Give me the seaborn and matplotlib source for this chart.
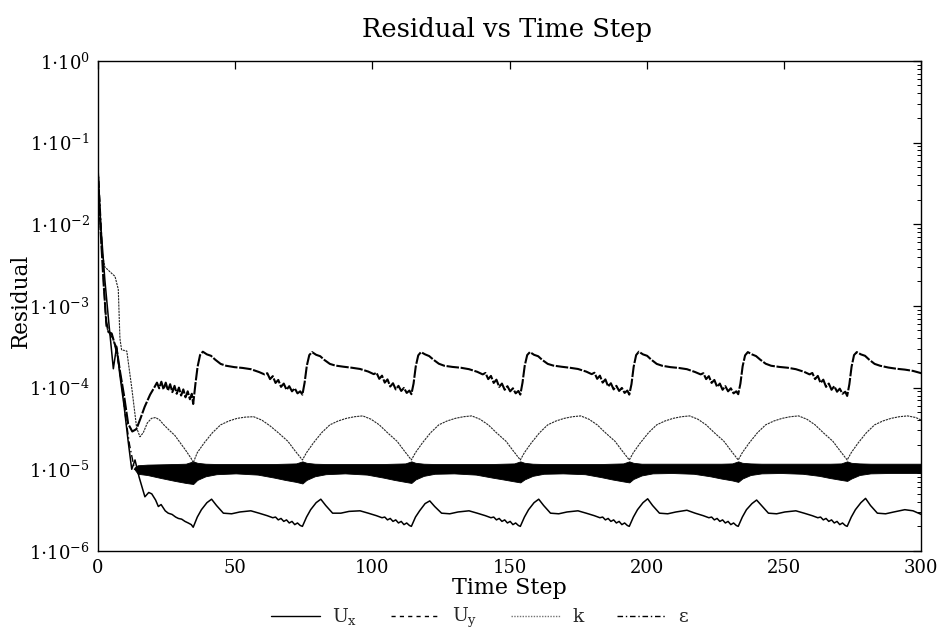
import matplotlib
matplotlib.use("Agg")
import numpy as np
import pandas as pd
import seaborn as sns
import matplotlib.pyplot as plt
from matplotlib.ticker import FixedLocator, FuncFormatter, LogLocator, NullFormatter
from matplotlib.lines import Line2D

# ---------------- data ----------------
ux_step = [0, 1, 2.5, 4, 5.6, 6.8, 8, 9.5, 11, 12.3, 13.5, 15, 17.1, 18.5, 19.6, 21, 22, 23, 24.5, 25.6,
           27, 28.3, 29.3, 30.5, 31.7, 32.9, 34, 34.7,
           36.2, 37.7, 39.7, 41.4, 43.2, 45.7, 48.7, 51.7, 55.7, 58.7, 61.7, 63.7, 64.7, 65.7, 66.7, 67.7, 68.7, 69.7, 70.7, 71.7, 72.7, 73.7, 74.5,
           76.0, 77.5, 79.5, 81.2, 83.0, 85.5, 88.5, 91.5, 95.5, 98.5, 101.5, 103.5, 104.5, 105.5, 106.5, 107.5, 108.5, 109.5, 110.5, 111.5, 112.5, 113.5, 114.2,
           115.7, 117.2, 119.2, 120.9, 122.7, 125.2, 128.2, 131.2, 135.2, 138.2, 141.2, 143.2, 144.2, 145.2, 146.2, 147.2, 148.2, 149.2, 150.2, 151.2, 152.2, 153.2, 153.9,
           155.4, 156.9, 158.9, 160.6, 162.4, 164.9, 167.9, 170.9, 174.9, 177.9, 180.9, 182.9, 183.9, 184.9, 185.9, 186.9, 187.9, 188.9, 189.9, 190.9, 191.9, 192.9, 193.6,
           195.1, 196.6, 198.6, 200.3, 202.1, 204.6, 207.6, 210.6, 214.6, 217.6, 220.6, 222.6, 223.6, 224.6, 225.6, 226.6, 227.6, 228.6, 229.6, 230.6, 231.6, 232.6, 233.3,
           234.8, 236.3, 238.3, 240.0, 241.8, 244.3, 247.3, 250.3, 254.3, 257.3, 260.3, 262.3, 263.3, 264.3, 265.3, 266.3, 267.3, 268.3, 269.3, 270.3, 271.3, 272.3, 273.0,
           274.5, 276.0, 278.0, 279.7, 281.5, 284.0, 287.0, 290.0, 294.0, 297.0, 300.0]
ux_res = [5e-2, 1e-2, 2.1e-3, 6e-4, 1.7e-4, 3.2e-4, 1.4e-4, 6e-5, 2.2e-5, 1.0e-5, 1.3e-5, 8e-6, 4.6e-6, 5.2e-6, 5.0e-6, 4.2e-6, 3.5e-6, 3.7e-6, 3.1e-6, 2.9e-6,
          2.8e-6, 2.6e-6, 2.5e-6, 2.45e-6, 2.3e-6, 2.2e-6, 2.1e-6, 1.95e-6,
          2.6e-6, 3.2e-6, 3.9e-6, 4.3e-6, 3.6e-6, 2.9e-6, 2.85e-6, 3.0e-6, 3.1e-6, 2.9e-6, 2.7e-6, 2.55e-6, 2.6e-6, 2.4e-6, 2.5e-6, 2.3e-6, 2.4e-6, 2.2e-6, 2.3e-6, 2.1e-6, 2.2e-6, 2.05e-6, 2.0e-6,
          2.6e-6, 3.2e-6, 3.9e-6, 4.3e-6, 3.6e-6, 2.9e-6, 2.9e-6, 3.05e-6, 3.1e-6, 2.9e-6, 2.7e-6, 2.55e-6, 2.6e-6, 2.4e-6, 2.5e-6, 2.3e-6, 2.4e-6, 2.2e-6, 2.3e-6, 2.1e-6, 2.2e-6, 2.05e-6, 2.0e-6,
          2.6e-6, 3.1e-6, 3.8e-6, 4.1e-6, 3.5e-6, 2.9e-6, 2.85e-6, 3.0e-6, 3.1e-6, 2.9e-6, 2.7e-6, 2.55e-6, 2.6e-6, 2.4e-6, 2.5e-6, 2.3e-6, 2.4e-6, 2.2e-6, 2.3e-6, 2.1e-6, 2.2e-6, 2.05e-6, 2.0e-6,
          2.6e-6, 3.2e-6, 3.9e-6, 4.3e-6, 3.6e-6, 2.9e-6, 2.85e-6, 3.0e-6, 3.1e-6, 2.9e-6, 2.7e-6, 2.55e-6, 2.6e-6, 2.4e-6, 2.5e-6, 2.3e-6, 2.4e-6, 2.2e-6, 2.3e-6, 2.1e-6, 2.2e-6, 2.05e-6, 2.0e-6,
          2.6e-6, 3.2e-6, 3.9e-6, 4.35e-6, 3.6e-6, 2.9e-6, 2.85e-6, 3.0e-6, 3.15e-6, 2.9e-6, 2.7e-6, 2.55e-6, 2.6e-6, 2.4e-6, 2.5e-6, 2.3e-6, 2.4e-6, 2.2e-6, 2.3e-6, 2.1e-6, 2.2e-6, 2.05e-6, 2.0e-6,
          2.6e-6, 3.2e-6, 3.8e-6, 4.2e-6, 3.6e-6, 2.9e-6, 2.85e-6, 3.0e-6, 3.1e-6, 2.9e-6, 2.7e-6, 2.55e-6, 2.6e-6, 2.4e-6, 2.5e-6, 2.3e-6, 2.4e-6, 2.2e-6, 2.3e-6, 2.1e-6, 2.2e-6, 2.05e-6, 2.0e-6,
          2.6e-6, 3.2e-6, 3.9e-6, 4.4e-6, 3.6e-6, 2.9e-6, 2.85e-6, 3.0e-6, 3.2e-6, 3.1e-6, 2.8e-6]

uy_step = [0, 1, 2, 3, 3.8, 5, 6, 6.8, 8, 9.5, 11, 12.5, 14, 15.5, 17, 19, 20.5, 21.5, 22.3, 23.1, 23.9, 24.7, 25.5, 26.3, 27.1, 27.9, 28.7, 29.5, 30.3, 31.1, 31.9, 32.7, 33.5, 34.2, 34.7,
           35.5, 36.3, 37.2, 38.2, 39.7, 41.2, 42.7, 44.7, 46.7, 49.7, 52.7, 55.7, 58.7, 60.7, 61.7, 62.7, 63.7, 64.7, 65.7, 66.7, 67.7, 68.7, 69.7, 70.7, 71.7, 72.7, 73.7, 74.5,
           75.3, 76.1, 77.0, 78.0, 79.5, 81.0, 82.5, 84.5, 86.5, 89.5, 92.5, 95.5, 98.5, 100.5, 101.5, 102.5, 103.5, 104.5, 105.5, 106.5, 107.5, 108.5, 109.5, 110.5, 111.5, 112.5, 113.5, 114.2,
           115.0, 115.8, 116.7, 117.7, 119.2, 120.7, 122.2, 124.2, 126.2, 129.2, 132.2, 135.2, 138.2, 140.2, 141.2, 142.2, 143.2, 144.2, 145.2, 146.2, 147.2, 148.2, 149.2, 150.2, 151.2, 152.2, 153.2, 153.9,
           154.7, 155.5, 156.4, 157.4, 158.9, 160.4, 161.9, 163.9, 165.9, 168.9, 171.9, 174.9, 177.9, 179.9, 180.9, 181.9, 182.9, 183.9, 184.9, 185.9, 186.9, 187.9, 188.9, 189.9, 190.9, 191.9, 192.9, 193.6,
           194.4, 195.2, 196.1, 197.1, 198.6, 200.1, 201.6, 203.6, 205.6, 208.6, 211.6, 214.6, 217.6, 219.6, 220.6, 221.6, 222.6, 223.6, 224.6, 225.6, 226.6, 227.6, 228.6, 229.6, 230.6, 231.6, 232.6, 233.3,
           234.1, 234.9, 235.8, 236.8, 238.3, 239.8, 241.3, 243.3, 245.3, 248.3, 251.3, 254.3, 257.3, 259.3, 260.3, 261.3, 262.3, 263.3, 264.3, 265.3, 266.3, 267.3, 268.3, 269.3, 270.3, 271.3, 272.3, 273.0,
           273.8, 274.6, 275.5, 276.5, 278.0, 279.5, 281.0, 283.0, 285.0, 288.0, 291.0, 294.0, 297.0, 300.0]
uy_res = [4e-2, 8e-3, 2.0e-3, 6.5e-4, 4.8e-4, 4.6e-4, 3.5e-4, 3.0e-4, 1.6e-4, 8e-5, 3.6e-5, 2.9e-5, 3.1e-5, 4.2e-5, 5.8e-5, 8.2e-5, 1.0e-4, 1.15e-4, 9.8e-5, 1.18e-4, 9.5e-5, 1.15e-4, 9.2e-5, 1.1e-4, 8.8e-5, 1.05e-4, 8.4e-5, 1.0e-4, 8.0e-5, 9.5e-5, 7.6e-5, 9.0e-5, 7.2e-5, 8.4e-5, 6.3e-5,
          1.1e-4, 1.8e-4, 2.5e-4, 2.75e-4, 2.55e-4, 2.45e-4, 2.2e-4, 1.95e-4, 1.85e-4, 1.78e-4, 1.74e-4, 1.68e-4, 1.55e-4, 1.45e-4, 1.5e-4, 1.27e-4, 1.38e-4, 1.14e-4, 1.24e-4, 1.02e-4, 1.12e-4, 9.4e-5, 1.04e-4, 9.0e-5, 9.8e-5, 8.5e-5, 9.0e-5, 8.2e-5,
          1.15e-4, 1.85e-4, 2.5e-4, 2.72e-4, 2.52e-4, 2.42e-4, 2.18e-4, 1.95e-4, 1.86e-4, 1.8e-4, 1.75e-4, 1.69e-4, 1.57e-4, 1.46e-4, 1.52e-4, 1.28e-4, 1.4e-4, 1.15e-4, 1.26e-4, 1.03e-4, 1.13e-4, 9.5e-5, 1.05e-4, 9.1e-5, 9.9e-5, 8.6e-5, 9.2e-5, 8.3e-5,
          1.12e-4, 1.82e-4, 2.48e-4, 2.72e-4, 2.55e-4, 2.43e-4, 2.2e-4, 1.96e-4, 1.85e-4, 1.79e-4, 1.75e-4, 1.68e-4, 1.56e-4, 1.45e-4, 1.51e-4, 1.27e-4, 1.39e-4, 1.14e-4, 1.25e-4, 1.02e-4, 1.12e-4, 9.4e-5, 1.04e-4, 9.0e-5, 9.8e-5, 8.5e-5, 9.1e-5, 8.2e-5,
          1.15e-4, 1.85e-4, 2.5e-4, 2.72e-4, 2.52e-4, 2.42e-4, 2.18e-4, 1.95e-4, 1.86e-4, 1.8e-4, 1.75e-4, 1.69e-4, 1.57e-4, 1.46e-4, 1.52e-4, 1.28e-4, 1.4e-4, 1.15e-4, 1.26e-4, 1.03e-4, 1.13e-4, 9.5e-5, 1.05e-4, 9.1e-5, 9.9e-5, 8.6e-5, 9.2e-5, 8.2e-5,
          1.1e-4, 1.8e-4, 2.5e-4, 2.75e-4, 2.55e-4, 2.45e-4, 2.2e-4, 1.95e-4, 1.85e-4, 1.78e-4, 1.74e-4, 1.68e-4, 1.55e-4, 1.45e-4, 1.5e-4, 1.27e-4, 1.38e-4, 1.14e-4, 1.24e-4, 1.02e-4, 1.12e-4, 9.4e-5, 1.04e-4, 9.0e-5, 9.8e-5, 8.5e-5, 9.0e-5, 8.3e-5,
          1.12e-4, 1.82e-4, 2.48e-4, 2.72e-4, 2.55e-4, 2.43e-4, 2.2e-4, 1.96e-4, 1.85e-4, 1.79e-4, 1.75e-4, 1.68e-4, 1.56e-4, 1.45e-4, 1.51e-4, 1.27e-4, 1.39e-4, 1.14e-4, 1.25e-4, 1.02e-4, 1.12e-4, 9.4e-5, 1.04e-4, 8.9e-5, 9.7e-5, 8.4e-5, 8.9e-5, 7.9e-5,
          1.1e-4, 1.8e-4, 2.5e-4, 2.72e-4, 2.55e-4, 2.45e-4, 2.2e-4, 1.95e-4, 1.85e-4, 1.76e-4, 1.7e-4, 1.66e-4, 1.6e-4, 1.5e-4]

k_step = [0, 1.3, 2.5, 5, 6.2, 7.4, 8, 8.6, 10.5, 12.3, 14.1, 15.3, 16.5, 18, 19.5, 21, 22.5, 24, 26, 28, 30, 32, 34, 34.7,
          36.2, 38.7, 41.7, 44.7, 47.7, 50.7, 53.7, 56.7, 59.7, 62.7, 65.7, 69.2, 71.7, 74.5,
          76.0, 78.5, 81.5, 84.5, 87.5, 90.5, 93.5, 96.5, 99.5, 102.5, 105.5, 109.0, 111.5, 114.2,
          115.7, 118.2, 121.2, 124.2, 127.2, 130.2, 133.2, 136.2, 139.2, 142.2, 145.2, 148.7, 151.2, 153.9,
          155.4, 157.9, 160.9, 163.9, 166.9, 169.9, 172.9, 175.9, 178.9, 181.9, 184.9, 188.4, 190.9, 193.6,
          195.1, 197.6, 200.6, 203.6, 206.6, 209.6, 212.6, 215.6, 218.6, 221.6, 224.6, 228.1, 230.6, 233.3,
          234.8, 237.3, 240.3, 243.3, 246.3, 249.3, 252.3, 255.3, 258.3, 261.3, 264.3, 267.8, 270.3, 273.0,
          274.5, 277.0, 280.0, 283.0, 286.0, 289.0, 292.0, 295.0, 298.0, 300.0]
k_res = [3e-2, 5e-3, 3.0e-3, 2.5e-3, 2.3e-3, 1.6e-3, 4e-4, 2.9e-4, 2.8e-4, 1.0e-4, 3.2e-5, 2.5e-5, 2.8e-5, 3.7e-5, 4.2e-5, 4.3e-5, 4.0e-5, 3.5e-5, 3.0e-5, 2.6e-5, 2.1e-5, 1.7e-5, 1.35e-5, 1.2e-5,
         1.6e-5, 2.1e-5, 2.8e-5, 3.5e-5, 3.9e-5, 4.2e-5, 4.35e-5, 4.4e-5, 4.0e-5, 3.4e-5, 2.8e-5, 2.2e-5, 1.7e-5, 1.3e-5,
         1.6e-5, 2.1e-5, 2.8e-5, 3.5e-5, 3.9e-5, 4.2e-5, 4.4e-5, 4.5e-5, 4.1e-5, 3.5e-5, 2.8e-5, 2.2e-5, 1.7e-5, 1.3e-5,
         1.6e-5, 2.1e-5, 2.8e-5, 3.5e-5, 3.9e-5, 4.2e-5, 4.4e-5, 4.5e-5, 4.1e-5, 3.5e-5, 2.8e-5, 2.2e-5, 1.7e-5, 1.3e-5,
         1.6e-5, 2.1e-5, 2.8e-5, 3.5e-5, 3.9e-5, 4.2e-5, 4.4e-5, 4.5e-5, 4.1e-5, 3.5e-5, 2.8e-5, 2.2e-5, 1.7e-5, 1.3e-5,
         1.6e-5, 2.1e-5, 2.8e-5, 3.5e-5, 3.9e-5, 4.2e-5, 4.4e-5, 4.5e-5, 4.1e-5, 3.5e-5, 2.8e-5, 2.2e-5, 1.7e-5, 1.3e-5,
         1.6e-5, 2.1e-5, 2.8e-5, 3.5e-5, 3.9e-5, 4.2e-5, 4.4e-5, 4.5e-5, 4.1e-5, 3.5e-5, 2.8e-5, 2.2e-5, 1.7e-5, 1.3e-5,
         1.6e-5, 2.1e-5, 2.8e-5, 3.5e-5, 3.9e-5, 4.2e-5, 4.4e-5, 4.5e-5, 4.3e-5, 4.0e-5]

eps_step = [0, 1, 2, 3, 4.5, 5.5, 7, 8.5, 10, 11.5, 13.3, 300]
eps_res = [5e-2, 1.2e-2, 2.2e-3, 5.5e-4, 4.4e-4, 4.0e-4, 2.5e-4, 1.2e-4, 4.5e-5, 2.0e-5, 1.0e-5, 1.0e-5]

# envelope of the fast epsilon oscillation (the thick band near 1e-5)
eps_band_step = [13.3, 14.5, 18, 23, 28, 32, 34.7,
                 36.2, 39.2, 43.2, 50.2, 58.2, 64.2, 68.2, 72.2, 74.5,
                 76.0, 79.0, 83.0, 90.0, 98.0, 104.0, 108.0, 112.0, 114.2,
                 115.7, 118.7, 122.7, 129.7, 137.7, 143.7, 147.7, 151.7, 153.9,
                 155.4, 158.4, 162.4, 169.4, 177.4, 183.4, 187.4, 191.4, 193.6,
                 195.1, 198.1, 202.1, 209.1, 217.1, 223.1, 227.1, 231.1, 233.3,
                 234.8, 237.8, 241.8, 248.8, 256.8, 262.8, 266.8, 270.8, 273.0,
                 274.5, 277.5, 281.5, 288.5, 296.5, 300.0]
eps_band_low = [1.0e-5, 8.8e-6, 8.5e-6, 7.8e-6, 7.2e-6, 6.8e-6, 6.6e-6,
                7.4e-6, 8.2e-6, 8.7e-6, 8.9e-6, 8.6e-6, 7.9e-6, 7.4e-6, 7.0e-6, 6.7e-6,
                7.4e-6, 8.2e-6, 8.7e-6, 8.9e-6, 8.6e-6, 7.9e-6, 7.4e-6, 7.0e-6, 6.8e-6,
                7.5e-6, 8.3e-6, 8.8e-6, 8.9e-6, 8.6e-6, 7.9e-6, 7.5e-6, 7.1e-6, 6.9e-6,
                7.5e-6, 8.3e-6, 8.8e-6, 8.9e-6, 8.7e-6, 8.0e-6, 7.5e-6, 7.1e-6, 6.9e-6,
                7.6e-6, 8.4e-6, 8.9e-6, 9.0e-6, 8.8e-6, 8.2e-6, 7.7e-6, 7.3e-6, 7.0e-6,
                7.7e-6, 8.5e-6, 8.9e-6, 9.0e-6, 8.8e-6, 8.3e-6, 7.8e-6, 7.4e-6, 7.2e-6,
                7.7e-6, 8.5e-6, 8.9e-6, 9.0e-6, 9.0e-6, 9.0e-6]
eps_band_high = [1.05e-5, 1.12e-5, 1.14e-5, 1.15e-5, 1.16e-5, 1.17e-5, 1.25e-5,
                 1.2e-5, 1.17e-5, 1.16e-5, 1.16e-5, 1.16e-5, 1.16e-5, 1.17e-5, 1.18e-5, 1.25e-5,
                 1.2e-5, 1.17e-5, 1.16e-5, 1.16e-5, 1.16e-5, 1.16e-5, 1.17e-5, 1.18e-5, 1.25e-5,
                 1.2e-5, 1.17e-5, 1.16e-5, 1.16e-5, 1.16e-5, 1.16e-5, 1.17e-5, 1.18e-5, 1.25e-5,
                 1.2e-5, 1.17e-5, 1.16e-5, 1.16e-5, 1.16e-5, 1.16e-5, 1.17e-5, 1.18e-5, 1.25e-5,
                 1.2e-5, 1.17e-5, 1.17e-5, 1.17e-5, 1.17e-5, 1.17e-5, 1.17e-5, 1.18e-5, 1.25e-5,
                 1.2e-5, 1.18e-5, 1.17e-5, 1.17e-5, 1.17e-5, 1.17e-5, 1.17e-5, 1.18e-5, 1.25e-5,
                 1.2e-5, 1.18e-5, 1.17e-5, 1.17e-5, 1.17e-5, 1.17e-5]

series_labels = [r"$\mathrm{U_x}$", r"$\mathrm{U_y}$", "k", "ε"]
x_ticks = [0, 50, 100, 150, 200, 250, 300]
y_ticks = [1e-6, 1e-5, 1e-4, 1e-3, 1e-2, 1e-1, 1e0]

assert len(ux_step) == len(ux_res)
assert len(uy_step) == len(uy_res)
assert len(k_step) == len(k_res)
assert len(eps_step) == len(eps_res)
assert len(eps_band_step) == len(eps_band_low) == len(eps_band_high)

# ---------------- style ----------------
sns.set_theme(style="white")
plt.rcParams["font.family"] = ["DejaVu Serif"]
plt.rcParams["mathtext.fontset"] = "dejavuserif"

fig = plt.figure(figsize=(9.42, 6.34), dpi=100)
ax = fig.add_axes([0.104, 0.131, 0.874, 0.773])

# epsilon fast oscillation band
ax.fill_between(eps_band_step, eps_band_low, eps_band_high, color="black", lw=0.6, zorder=2)

common = dict(ax=ax, sort=False, estimator=None, legend=False)
sns.lineplot(x=eps_step, y=eps_res, color="black", linewidth=1.0, linestyle=(0, (5, 2, 1, 2)), **common)
sns.lineplot(x=k_step, y=k_res, color="0.15", linewidth=0.8, linestyle=(0, (2, 0.8)), **common)
sns.lineplot(x=ux_step, y=ux_res, color="black", linewidth=1.1, linestyle="-", **common)
sns.lineplot(x=uy_step, y=uy_res, color="black", linewidth=1.5, linestyle=(0, (6, 0.8)), **common)

ax.set_yscale("log")
ax.set_xlim(0, 300)
ax.set_ylim(1e-6, 1e0)
ax.xaxis.set_major_locator(FixedLocator(x_ticks))
ax.yaxis.set_major_locator(FixedLocator(y_ticks))
ax.yaxis.set_minor_locator(LogLocator(base=10, subs=np.arange(2, 10), numticks=20))
ax.yaxis.set_minor_formatter(NullFormatter())
ax.yaxis.set_major_formatter(FuncFormatter(lambda v, p: r"$1{\cdot}10^{%d}$" % int(round(np.log10(v)))))

for s in ax.spines.values():
    s.set_visible(True)
    s.set_color("black")
    s.set_linewidth(1.0)
ax.tick_params(which="both", direction="in", top=True, right=True, colors="black", labelcolor="black")
ax.tick_params(which="major", length=6, width=0.9, labelsize=13, pad=6)
ax.tick_params(which="minor", length=3, width=0.7)
ax.grid(False)

ax.set_xlabel("Time Step", fontsize=16, labelpad=0, color="black")
ax.set_ylabel("Residual", fontsize=15.5, color="black")
ax.yaxis.set_label_coords(-0.080, 0.51)
fig.text(0.538, 1 - 30 / 634, "Residual vs Time Step", ha="center", va="center", fontsize=18.5, color="black")

handles = [
    Line2D([], [], color="black", lw=1.0, ls="-"),
    Line2D([], [], color="black", lw=1.0, ls=(0, (3, 3))),
    Line2D([], [], color="0.45", lw=1.0, ls=(0, (1, 1))),
    Line2D([], [], color="black", lw=1.0, ls=(0, (4, 2, 1, 2))),
]
fig.legend(handles, series_labels, loc="center", bbox_to_anchor=(0.509, 0.025),
           bbox_transform=fig.transFigure, ncol=4, frameon=False, fontsize=13.5,
           handlelength=2.6, handletextpad=0.65, columnspacing=1.8)

fig.savefig("out.png", dpi=100)
